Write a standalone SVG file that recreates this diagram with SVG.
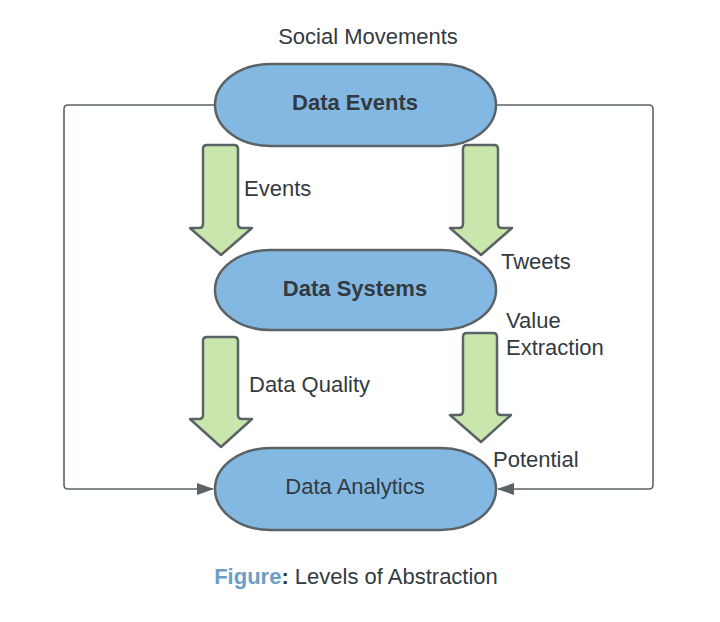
<svg xmlns="http://www.w3.org/2000/svg" width="720" height="622" viewBox="0 0 720 622">
<style>
text{font-family:"Liberation Sans",Arial,sans-serif;font-size:22px;fill:#333a3f}
.b{font-weight:bold}
.pill{fill:#83b8e2;stroke:#5b6367;stroke-width:2.5}
.blk{fill:#c9e7ad;stroke:#5b6367;stroke-width:2.5;stroke-linejoin:round}
.con{fill:none;stroke:#5b6367;stroke-width:1.6}
</style>
<defs>
<marker id="ah" markerWidth="17" markerHeight="12" refX="16" refY="6" orient="auto" markerUnits="userSpaceOnUse">
<path d="M0,0 L17,6 L0,12 Z" fill="#5b6367"/>
</marker>
<path id="arr" d="M0,4 Q0,0 4,0 L31,0 Q35,0 35,4 L35,79 Q35,83 39,83 L49,83 L18,110 L-13,83 L-4,83 Q0,83 0,79 Z"/>
</defs>
<rect width="720" height="622" fill="#ffffff"/>
<text x="368" y="44" text-anchor="middle">Social Movements</text>
<g id="connectors">
<path class="con" d="M215,105 L68,105 Q64,105 64,109 L64,485 Q64,489 68,489 L213,489" marker-end="url(#ah)"/>
<path class="con" d="M496,105 L649,105 Q653,105 653,109 L653,485 Q653,489 649,489 L498,489" marker-end="url(#ah)"/>
</g>
<g id="arrow-events">
<use href="#arr" class="blk" x="203" y="145"/>
<text x="244" y="196">Events</text>
</g>
<g id="arrow-tweets">
<use href="#arr" class="blk" x="463" y="145"/>
<text x="501" y="269">Tweets</text>
</g>
<g id="arrow-quality">
<path class="blk" d="M203,341 Q203,337 207,337 L234,337 Q238,337 238,341 L238,415 Q238,419 242,419 L252,419 L221,447 L190,419 L199,419 Q203,419 203,415 Z"/>
<text x="249" y="392">Data Quality</text>
</g>
<g id="arrow-value">
<path class="blk" d="M463,337 Q463,333 467,333 L493,333 Q497,333 497,337 L497,411 Q497,415 501,415 L511,415 L481,442 L450,415 L459,415 Q463,415 463,411 Z"/>
<text x="506" y="328">Value</text>
<text x="506" y="355">Extraction</text>
<text x="493" y="467">Potential</text>
</g>
<g id="data-events">
<rect class="pill" x="215" y="64" width="281" height="82" rx="55" ry="41"/>
<text class="b" x="355" y="110" text-anchor="middle">Data Events</text>
</g>
<g id="data-systems">
<rect class="pill" x="215" y="250" width="281" height="80" rx="55" ry="40"/>
<text class="b" x="355" y="296" text-anchor="middle">Data Systems</text>
</g>
<g id="data-analytics">
<rect class="pill" x="215" y="448" width="281" height="82" rx="55" ry="41"/>
<text x="355" y="494" text-anchor="middle">Data Analytics</text>
</g>
<text x="356" y="584" text-anchor="middle"><tspan class="b" style="fill:#6c9dc6">Figure</tspan><tspan class="b">:</tspan> Levels of Abstraction</text>
</svg>
